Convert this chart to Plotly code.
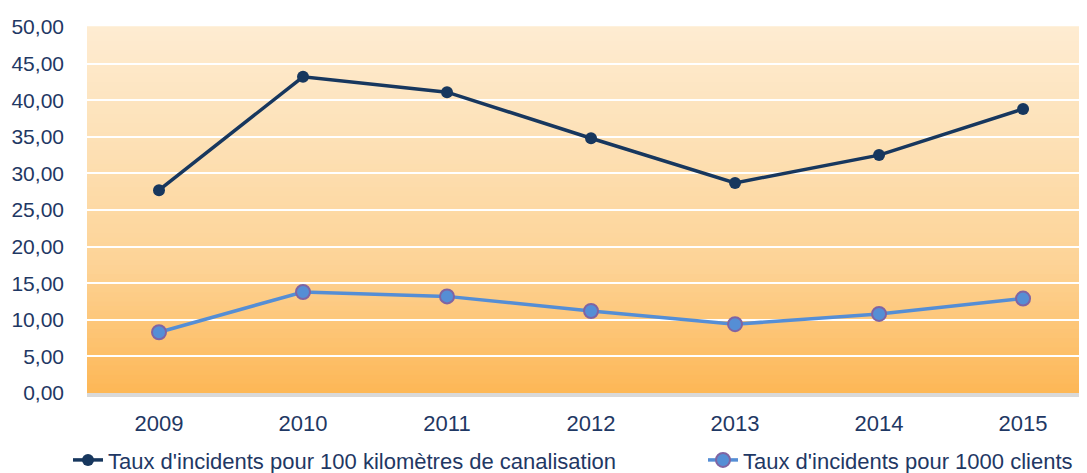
import plotly.graph_objects as go

years = ["2009", "2010", "2011", "2012", "2013", "2014", "2015"]
taux_km = [27.7, 43.2, 41.1, 34.8, 28.7, 32.5, 38.8]
taux_clients = [8.3, 13.8, 13.2, 11.2, 9.4, 10.8, 12.9]
name_km = "Taux d'incidents pour 100 kilomètres de canalisation"
name_clients = "Taux d'incidents pour 1000 clients"

FONT = "Liberation Sans"
NAVY = "#1F3864"

fig = go.Figure()
fig.add_trace(go.Scatter(
    x=years, y=taux_km, name=name_km, mode="lines+markers",
    line=dict(color="#17375E", width=3.5),
    marker=dict(color="#17375E", size=12),
    legend="legend",
))
fig.add_trace(go.Scatter(
    x=years, y=taux_clients, name=name_clients, mode="lines+markers",
    line=dict(color="#558ED5", width=3.5),
    marker=dict(color="#558ED5", size=14, line=dict(color="#8064A2", width=2)),
    legend="legend2",
))

# vertical gradient background (styling only)
def lerp(c1, c2, t):
    return tuple(round(a + (b - a) * t) for a, b in zip(c1, c2))

stops = [(0.0, (253, 183, 86)), (0.35, (253, 211, 150)), (0.7, (253, 225, 183)), (1.0, (254, 236, 210))]
N = 80
shapes = []
for i in range(N):
    t = (i + 0.5) / N
    for j in range(len(stops) - 1):
        if stops[j][0] <= t <= stops[j + 1][0]:
            u = (t - stops[j][0]) / (stops[j + 1][0] - stops[j][0])
            c = lerp(stops[j][1], stops[j + 1][1], u)
            break
    shapes.append(dict(type="rect", xref="paper", yref="paper",
                       x0=0, x1=1, y0=i / N, y1=(i + 1) / N + 0.002,
                       fillcolor="rgb(%d,%d,%d)" % c, line=dict(width=0), layer="below"))

legend_common = dict(orientation="h", xanchor="left", y=-0.126, yanchor="top",
                     font=dict(family=FONT, size=22, color=NAVY),
                     bgcolor="rgba(0,0,0,0)")

fig.update_layout(
    width=1079, height=465,
    margin=dict(l=79, r=0, t=19, b=80, autoexpand=False),
    paper_bgcolor="white", plot_bgcolor="rgba(0,0,0,0)",
    separators=", ",
    shapes=shapes,
    font=dict(family=FONT, size=21, color=NAVY),
    showlegend=True,
    legend=dict(x=-0.019, **legend_common),
    legend2=dict(x=0.616, **legend_common),
)
fig.update_xaxes(type="category", range=[-0.5, 6.444], showgrid=False,
                 showline=True, linecolor="#D9D9D9", linewidth=4,
                 ticks="", ticklabelstandoff=8, automargin=False,
                 tickfont=dict(family=FONT, size=22, color=NAVY), zeroline=False)
fig.update_yaxes(range=[0, 50], dtick=5, tickformat=".2f", showgrid=True,
                 gridcolor="white", gridwidth=2, zeroline=False, showline=False,
                 ticks="", ticklabelstandoff=22, automargin=False,
                 tickfont=dict(family=FONT, size=21, color=NAVY))

fig.write_html("out.html")
